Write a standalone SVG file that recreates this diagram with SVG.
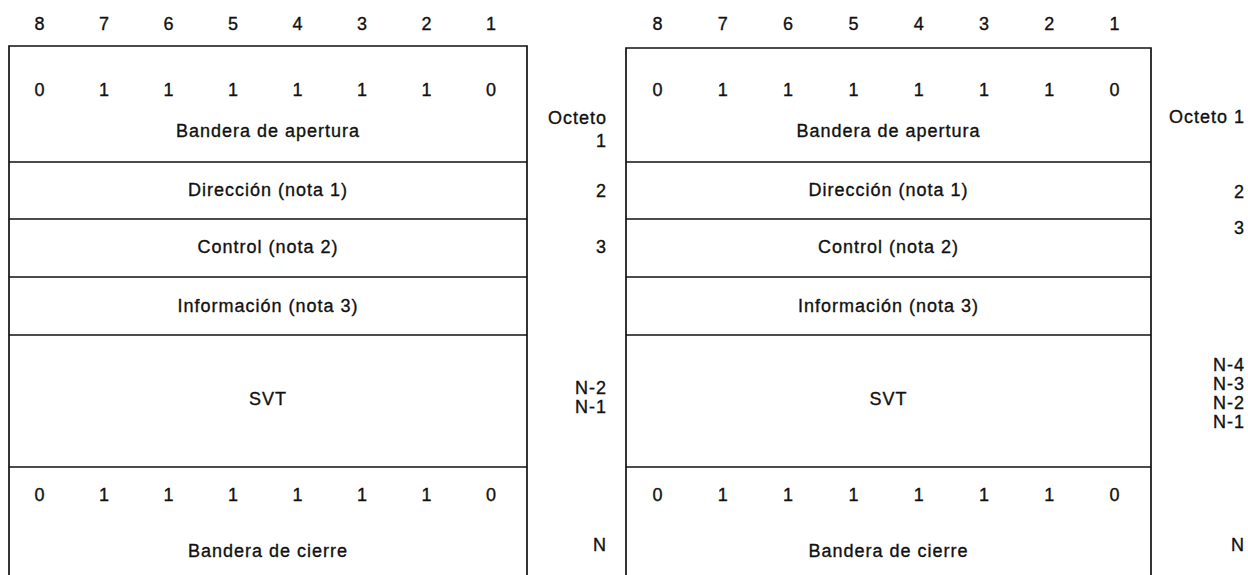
<svg xmlns="http://www.w3.org/2000/svg" width="1248" height="575" viewBox="0 0 1248 575">
<style>
text{font-family:"Liberation Sans",Arial,sans-serif;font-size:18px;fill:#111;stroke:#111;stroke-width:0.35;letter-spacing:1px}
.c{text-anchor:middle}
.r{text-anchor:end}
.ln{stroke:#111;stroke-width:1.7;fill:none}
</style>
<rect width="1248" height="575" fill="#fff"/>
<g id="left-frame">
<g id="left-header">
<text class="c" x="40" y="30">8</text><text class="c" x="104.5" y="30">7</text><text class="c" x="169" y="30">6</text><text class="c" x="233.5" y="30">5</text><text class="c" x="298" y="30">4</text><text class="c" x="362.5" y="30">3</text><text class="c" x="427" y="30">2</text><text class="c" x="491.5" y="30">1</text>
</g>
<g id="left-outline"><path class="ln" d="M9,575V46H527V575"/></g>
<g id="left-open">
<text class="c" x="40" y="96">0</text><text class="c" x="104.5" y="96">1</text><text class="c" x="169" y="96">1</text><text class="c" x="233.5" y="96">1</text><text class="c" x="298" y="96">1</text><text class="c" x="362.5" y="96">1</text><text class="c" x="427" y="96">1</text><text class="c" x="491.5" y="96">0</text>
<text class="c" x="268" y="137">Bandera de apertura</text>
</g>
<g id="left-dir"><line class="ln" x1="9" y1="162" x2="527" y2="162"/><text class="c" x="268" y="196">Dirección (nota 1)</text></g>
<g id="left-ctrl"><line class="ln" x1="9" y1="219" x2="527" y2="219"/><text class="c" x="268" y="253">Control (nota 2)</text></g>
<g id="left-info"><line class="ln" x1="9" y1="277" x2="527" y2="277"/><text class="c" x="268" y="312">Información (nota 3)</text></g>
<g id="left-svt"><line class="ln" x1="9" y1="335" x2="527" y2="335"/><text class="c" x="268" y="405">SVT</text></g>
<g id="left-close"><line class="ln" x1="9" y1="467" x2="527" y2="467"/>
<text class="c" x="40" y="501">0</text><text class="c" x="104.5" y="501">1</text><text class="c" x="169" y="501">1</text><text class="c" x="233.5" y="501">1</text><text class="c" x="298" y="501">1</text><text class="c" x="362.5" y="501">1</text><text class="c" x="427" y="501">1</text><text class="c" x="491.5" y="501">0</text>
<text class="c" x="268" y="557">Bandera de cierre</text>
</g>
</g>
<g id="left-octets">
<text class="r" x="607" y="124">Octeto</text>
<text class="r" x="607" y="147">1</text>
<text class="r" x="607" y="197">2</text>
<text class="r" x="607" y="253">3</text>
<text class="r" x="607" y="394">N-2</text>
<text class="r" x="607" y="413">N-1</text>
<text class="r" x="607" y="551">N</text>
</g>
<g id="right-frame">
<g id="right-header">
<text class="c" x="658" y="30">8</text><text class="c" x="723.3" y="30">7</text><text class="c" x="788.6" y="30">6</text><text class="c" x="853.9" y="30">5</text><text class="c" x="919.2" y="30">4</text><text class="c" x="984.5" y="30">3</text><text class="c" x="1049.8" y="30">2</text><text class="c" x="1115.1" y="30">1</text>
</g>
<g id="right-outline"><path class="ln" d="M626,575V48H1151V575"/></g>
<g id="right-open">
<text class="c" x="658" y="96">0</text><text class="c" x="723.3" y="96">1</text><text class="c" x="788.6" y="96">1</text><text class="c" x="853.9" y="96">1</text><text class="c" x="919.2" y="96">1</text><text class="c" x="984.5" y="96">1</text><text class="c" x="1049.8" y="96">1</text><text class="c" x="1115.1" y="96">0</text>
<text class="c" x="888.5" y="137">Bandera de apertura</text>
</g>
<g id="right-dir"><line class="ln" x1="626" y1="162" x2="1151" y2="162"/><text class="c" x="888.5" y="196">Dirección (nota 1)</text></g>
<g id="right-ctrl"><line class="ln" x1="626" y1="219" x2="1151" y2="219"/><text class="c" x="888.5" y="253">Control (nota 2)</text></g>
<g id="right-info"><line class="ln" x1="626" y1="277" x2="1151" y2="277"/><text class="c" x="888.5" y="312">Información (nota 3)</text></g>
<g id="right-svt"><line class="ln" x1="626" y1="335" x2="1151" y2="335"/><text class="c" x="888.5" y="405">SVT</text></g>
<g id="right-close"><line class="ln" x1="626" y1="467" x2="1151" y2="467"/>
<text class="c" x="658" y="501">0</text><text class="c" x="723.3" y="501">1</text><text class="c" x="788.6" y="501">1</text><text class="c" x="853.9" y="501">1</text><text class="c" x="919.2" y="501">1</text><text class="c" x="984.5" y="501">1</text><text class="c" x="1049.8" y="501">1</text><text class="c" x="1115.1" y="501">0</text>
<text class="c" x="888.5" y="557">Bandera de cierre</text>
</g>
</g>
<g id="right-octets">
<text class="r" x="1245" y="123">Octeto 1</text>
<text class="r" x="1245" y="198">2</text>
<text class="r" x="1245" y="234">3</text>
<text class="r" x="1245" y="371">N-4</text>
<text class="r" x="1245" y="390">N-3</text>
<text class="r" x="1245" y="409">N-2</text>
<text class="r" x="1245" y="428">N-1</text>
<text class="r" x="1245" y="551">N</text>
</g>
<g id="connectors"/>
</svg>
